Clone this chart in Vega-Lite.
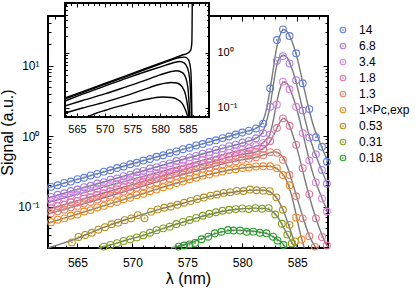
{
"$schema": "https://vega.github.io/schema/vega-lite/v6.json",
"width": 280, "height": 232,
"autosize": {"type": "none"},
"padding": {"left": 48, "top": 16, "right": 87, "bottom": 42},
"background": "white",
"config": {
  "view": {"stroke": "black", "strokeWidth": 2},
  "font": "Liberation Sans",
  "axis": {"domain": false, "grid": false, "tickColor": "black", "tickWidth": 1, "labelColor": "black", "labelFont": "Liberation Sans", "titleFont": "Liberation Sans", "labelFontSize": 12, "titleFontSize": 16, "titleFontWeight": "normal", "titleColor": "black", "labelFlush": false, "labelOverlap": false},
  "legend": {"labelFont": "Liberation Sans", "labelFontSize": 12, "labelColor": "black"}
},
"datasets": {
"pts": [
{"s":"14","x":562.6,"y":0.19},{"s":"14","x":563.2,"y":0.2},{"s":"14","x":563.8,"y":0.216},{"s":"14","x":564.4,"y":0.226},{"s":"14","x":565.0,"y":0.244},{"s":"14","x":565.6,"y":0.256},{"s":"14","x":566.2,"y":0.276},{"s":"14","x":566.8,"y":0.29},{"s":"14","x":567.4,"y":0.312},{"s":"14","x":568.0,"y":0.327},{"s":"14","x":568.6,"y":0.352},{"s":"14","x":569.2,"y":0.37},{"s":"14","x":569.8,"y":0.398},{"s":"14","x":570.4,"y":0.418},{"s":"14","x":571.0,"y":0.45},{"s":"14","x":571.6,"y":0.472},{"s":"14","x":572.2,"y":0.508},{"s":"14","x":572.8,"y":0.534},{"s":"14","x":573.4,"y":0.575},{"s":"14","x":574.0,"y":0.604},{"s":"14","x":574.6,"y":0.65},{"s":"14","x":575.2,"y":0.682},{"s":"14","x":575.8,"y":0.735},{"s":"14","x":576.4,"y":0.77},{"s":"14","x":577.0,"y":0.83},{"s":"14","x":577.6,"y":0.87},{"s":"14","x":578.2,"y":0.935},{"s":"14","x":578.8,"y":0.985},{"s":"14","x":579.4,"y":1.05},{"s":"14","x":580.0,"y":1.12},{"s":"14","x":580.6,"y":1.19},{"s":"14","x":581.25,"y":1.28},{"s":"14","x":581.9,"y":1.5},{"s":"14","x":582.54,"y":4.75},{"s":"14","x":583.15,"y":23},{"s":"14","x":583.7,"y":32.6},{"s":"14","x":584.3,"y":26.2},{"s":"14","x":584.9,"y":14.9},{"s":"14","x":585.5,"y":5.6},{"s":"14","x":586.1,"y":2.41},{"s":"14","x":586.7,"y":0.96},{"s":"14","x":587.25,"y":0.705},{"s":"14","x":587.7,"y":0.432},
{"s":"6.8","x":562.6,"y":0.137},{"s":"6.8","x":563.2,"y":0.147},{"s":"6.8","x":563.8,"y":0.154},{"s":"6.8","x":564.4,"y":0.166},{"s":"6.8","x":565.0,"y":0.174},{"s":"6.8","x":565.6,"y":0.188},{"s":"6.8","x":566.2,"y":0.197},{"s":"6.8","x":566.8,"y":0.212},{"s":"6.8","x":567.4,"y":0.222},{"s":"6.8","x":568.0,"y":0.24},{"s":"6.8","x":568.6,"y":0.251},{"s":"6.8","x":569.2,"y":0.27},{"s":"6.8","x":569.8,"y":0.283},{"s":"6.8","x":570.4,"y":0.306},{"s":"6.8","x":571.0,"y":0.32},{"s":"6.8","x":571.6,"y":0.346},{"s":"6.8","x":572.2,"y":0.362},{"s":"6.8","x":572.8,"y":0.39},{"s":"6.8","x":573.4,"y":0.41},{"s":"6.8","x":574.0,"y":0.442},{"s":"6.8","x":574.6,"y":0.462},{"s":"6.8","x":575.2,"y":0.498},{"s":"6.8","x":575.8,"y":0.522},{"s":"6.8","x":576.4,"y":0.562},{"s":"6.8","x":577.0,"y":0.59},{"s":"6.8","x":577.6,"y":0.636},{"s":"6.8","x":578.2,"y":0.668},{"s":"6.8","x":578.8,"y":0.718},{"s":"6.8","x":579.4,"y":0.755},{"s":"6.8","x":580.0,"y":0.81},{"s":"6.8","x":580.6,"y":0.855},{"s":"6.8","x":581.25,"y":0.93},{"s":"6.8","x":581.9,"y":1.1},{"s":"6.8","x":582.54,"y":2.6},{"s":"6.8","x":583.15,"y":11.7},{"s":"6.8","x":583.7,"y":13.6},{"s":"6.8","x":584.3,"y":10.7},{"s":"6.8","x":584.9,"y":6.2},{"s":"6.8","x":585.5,"y":2.3},{"s":"6.8","x":586.1,"y":0.95},{"s":"6.8","x":586.7,"y":0.55},{"s":"6.8","x":587.25,"y":0.33},{"s":"6.8","x":587.7,"y":0.21},
{"s":"3.4","x":562.6,"y":0.118},{"s":"3.4","x":563.2,"y":0.126},{"s":"3.4","x":563.8,"y":0.132},{"s":"3.4","x":564.4,"y":0.142},{"s":"3.4","x":565.0,"y":0.148},{"s":"3.4","x":565.6,"y":0.159},{"s":"3.4","x":566.2,"y":0.167},{"s":"3.4","x":566.8,"y":0.179},{"s":"3.4","x":567.4,"y":0.188},{"s":"3.4","x":568.0,"y":0.201},{"s":"3.4","x":568.6,"y":0.211},{"s":"3.4","x":569.2,"y":0.226},{"s":"3.4","x":569.8,"y":0.238},{"s":"3.4","x":570.4,"y":0.255},{"s":"3.4","x":571.0,"y":0.267},{"s":"3.4","x":571.6,"y":0.286},{"s":"3.4","x":572.2,"y":0.3},{"s":"3.4","x":572.8,"y":0.322},{"s":"3.4","x":573.4,"y":0.337},{"s":"3.4","x":574.0,"y":0.362},{"s":"3.4","x":574.6,"y":0.379},{"s":"3.4","x":575.2,"y":0.406},{"s":"3.4","x":575.8,"y":0.427},{"s":"3.4","x":576.4,"y":0.457},{"s":"3.4","x":577.0,"y":0.48},{"s":"3.4","x":577.6,"y":0.513},{"s":"3.4","x":578.2,"y":0.54},{"s":"3.4","x":578.8,"y":0.575},{"s":"3.4","x":579.4,"y":0.6},{"s":"3.4","x":580.0,"y":0.64},{"s":"3.4","x":580.6,"y":0.67},{"s":"3.4","x":581.25,"y":0.72},{"s":"3.4","x":581.9,"y":0.8},{"s":"3.4","x":582.54,"y":1.05},{"s":"3.4","x":583.15,"y":2.8},{"s":"3.4","x":583.7,"y":5.9},{"s":"3.4","x":584.3,"y":4.6},{"s":"3.4","x":584.9,"y":2.6},{"s":"3.4","x":585.5,"y":1.1},{"s":"3.4","x":586.1,"y":0.45},{"s":"3.4","x":586.7,"y":0.22},{"s":"3.4","x":587.25,"y":0.13},{"s":"3.4","x":587.7,"y":0.085},
{"s":"1.8","x":562.6,"y":0.094},{"s":"1.8","x":563.2,"y":0.101},{"s":"1.8","x":563.8,"y":0.106},{"s":"1.8","x":564.4,"y":0.115},{"s":"1.8","x":565.0,"y":0.12},{"s":"1.8","x":565.6,"y":0.13},{"s":"1.8","x":566.2,"y":0.136},{"s":"1.8","x":566.8,"y":0.147},{"s":"1.8","x":567.4,"y":0.155},{"s":"1.8","x":568.0,"y":0.167},{"s":"1.8","x":568.6,"y":0.176},{"s":"1.8","x":569.2,"y":0.19},{"s":"1.8","x":569.8,"y":0.199},{"s":"1.8","x":570.4,"y":0.215},{"s":"1.8","x":571.0,"y":0.226},{"s":"1.8","x":571.6,"y":0.244},{"s":"1.8","x":572.2,"y":0.257},{"s":"1.8","x":572.8,"y":0.277},{"s":"1.8","x":573.4,"y":0.29},{"s":"1.8","x":574.0,"y":0.313},{"s":"1.8","x":574.6,"y":0.33},{"s":"1.8","x":575.2,"y":0.355},{"s":"1.8","x":575.8,"y":0.372},{"s":"1.8","x":576.4,"y":0.4},{"s":"1.8","x":577.0,"y":0.42},{"s":"1.8","x":577.6,"y":0.452},{"s":"1.8","x":578.2,"y":0.47},{"s":"1.8","x":578.8,"y":0.502},{"s":"1.8","x":579.4,"y":0.52},{"s":"1.8","x":580.0,"y":0.552},{"s":"1.8","x":580.6,"y":0.565},{"s":"1.8","x":581.25,"y":0.6},{"s":"1.8","x":581.9,"y":0.66},{"s":"1.8","x":582.54,"y":0.85},{"s":"1.8","x":583.15,"y":1.3},{"s":"1.8","x":583.7,"y":1.78},{"s":"1.8","x":584.3,"y":1.4},{"s":"1.8","x":584.9,"y":0.75},{"s":"1.8","x":585.5,"y":0.35},{"s":"1.8","x":586.1,"y":0.15},{"s":"1.8","x":586.7,"y":0.068},{"s":"1.8","x":587.25,"y":0.037},{"s":"1.8","x":587.7,"y":0.028},
{"s":"1.3","x":562.6,"y":0.08},{"s":"1.3","x":563.2,"y":0.086},{"s":"1.3","x":563.8,"y":0.09},{"s":"1.3","x":564.4,"y":0.098},{"s":"1.3","x":565.0,"y":0.102},{"s":"1.3","x":565.6,"y":0.111},{"s":"1.3","x":566.2,"y":0.116},{"s":"1.3","x":566.8,"y":0.126},{"s":"1.3","x":567.4,"y":0.132},{"s":"1.3","x":568.0,"y":0.143},{"s":"1.3","x":568.6,"y":0.15},{"s":"1.3","x":569.2,"y":0.163},{"s":"1.3","x":569.8,"y":0.171},{"s":"1.3","x":570.4,"y":0.185},{"s":"1.3","x":571.0,"y":0.194},{"s":"1.3","x":571.6,"y":0.21},{"s":"1.3","x":572.2,"y":0.22},{"s":"1.3","x":572.8,"y":0.238},{"s":"1.3","x":573.4,"y":0.25},{"s":"1.3","x":574.0,"y":0.27},{"s":"1.3","x":574.6,"y":0.284},{"s":"1.3","x":575.2,"y":0.305},{"s":"1.3","x":575.8,"y":0.318},{"s":"1.3","x":576.4,"y":0.342},{"s":"1.3","x":577.0,"y":0.357},{"s":"1.3","x":577.6,"y":0.382},{"s":"1.3","x":578.2,"y":0.397},{"s":"1.3","x":578.8,"y":0.422},{"s":"1.3","x":579.4,"y":0.437},{"s":"1.3","x":580.0,"y":0.462},{"s":"1.3","x":580.6,"y":0.476},{"s":"1.3","x":581.25,"y":0.5},{"s":"1.3","x":581.9,"y":0.535},{"s":"1.3","x":582.54,"y":0.59},{"s":"1.3","x":583.15,"y":0.58},{"s":"1.3","x":583.7,"y":0.46},{"s":"1.3","x":584.3,"y":0.28},{"s":"1.3","x":584.9,"y":0.14},{"s":"1.3","x":585.5,"y":0.068},{"s":"1.3","x":586.1,"y":0.038},{"s":"1.3","x":586.6,"y":0.027},
{"s":"1×Pc,exp","x":562.6,"y":0.06},{"s":"1×Pc,exp","x":563.2,"y":0.065},{"s":"1×Pc,exp","x":563.8,"y":0.068},{"s":"1×Pc,exp","x":564.4,"y":0.074},{"s":"1×Pc,exp","x":565.0,"y":0.077},{"s":"1×Pc,exp","x":565.6,"y":0.085},{"s":"1×Pc,exp","x":566.2,"y":0.089},{"s":"1×Pc,exp","x":566.8,"y":0.097},{"s":"1×Pc,exp","x":567.4,"y":0.102},{"s":"1×Pc,exp","x":568.0,"y":0.111},{"s":"1×Pc,exp","x":568.6,"y":0.116},{"s":"1×Pc,exp","x":569.2,"y":0.127},{"s":"1×Pc,exp","x":569.8,"y":0.133},{"s":"1×Pc,exp","x":570.4,"y":0.145},{"s":"1×Pc,exp","x":571.0,"y":0.152},{"s":"1×Pc,exp","x":571.6,"y":0.165},{"s":"1×Pc,exp","x":572.2,"y":0.174},{"s":"1×Pc,exp","x":572.8,"y":0.188},{"s":"1×Pc,exp","x":573.4,"y":0.198},{"s":"1×Pc,exp","x":574.0,"y":0.215},{"s":"1×Pc,exp","x":574.6,"y":0.226},{"s":"1×Pc,exp","x":575.2,"y":0.244},{"s":"1×Pc,exp","x":575.8,"y":0.256},{"s":"1×Pc,exp","x":576.4,"y":0.274},{"s":"1×Pc,exp","x":577.0,"y":0.285},{"s":"1×Pc,exp","x":577.6,"y":0.302},{"s":"1×Pc,exp","x":578.2,"y":0.313},{"s":"1×Pc,exp","x":578.8,"y":0.33},{"s":"1×Pc,exp","x":579.4,"y":0.338},{"s":"1×Pc,exp","x":580.0,"y":0.352},{"s":"1×Pc,exp","x":580.6,"y":0.358},{"s":"1×Pc,exp","x":581.25,"y":0.37},{"s":"1×Pc,exp","x":581.9,"y":0.372},{"s":"1×Pc,exp","x":582.54,"y":0.372},{"s":"1×Pc,exp","x":583.15,"y":0.35},{"s":"1×Pc,exp","x":583.7,"y":0.28},{"s":"1×Pc,exp","x":584.3,"y":0.2},{"s":"1×Pc,exp","x":584.9,"y":0.07},{"s":"1×Pc,exp","x":585.4,"y":0.034},
{"s":"0.53","x":564.5,"y":0.031},{"s":"0.53","x":565.1,"y":0.037},{"s":"0.53","x":565.7,"y":0.0395},{"s":"0.53","x":566.3,"y":0.0425},{"s":"0.53","x":566.9,"y":0.047},{"s":"0.53","x":567.5,"y":0.051},{"s":"0.53","x":568.1,"y":0.056},{"s":"0.53","x":568.7,"y":0.059},{"s":"0.53","x":569.3,"y":0.064},{"s":"0.53","x":569.9,"y":0.068},{"s":"0.53","x":570.5,"y":0.0755},{"s":"0.53","x":571.1,"y":0.068},{"s":"0.53","x":571.7,"y":0.0845},{"s":"0.53","x":572.3,"y":0.091},{"s":"0.53","x":572.9,"y":0.096},{"s":"0.53","x":573.5,"y":0.1},{"s":"0.53","x":574.1,"y":0.106},{"s":"0.53","x":574.7,"y":0.113},{"s":"0.53","x":575.3,"y":0.12},{"s":"0.53","x":575.9,"y":0.128},{"s":"0.53","x":576.5,"y":0.134},{"s":"0.53","x":577.1,"y":0.143},{"s":"0.53","x":577.7,"y":0.148},{"s":"0.53","x":578.3,"y":0.156},{"s":"0.53","x":578.9,"y":0.16},{"s":"0.53","x":579.5,"y":0.167},{"s":"0.53","x":580.1,"y":0.166},{"s":"0.53","x":580.7,"y":0.174},{"s":"0.53","x":581.3,"y":0.17},{"s":"0.53","x":581.9,"y":0.168},{"s":"0.53","x":582.5,"y":0.165},{"s":"0.53","x":583.1,"y":0.135},{"s":"0.53","x":583.7,"y":0.09},{"s":"0.53","x":584.3,"y":0.055},{"s":"0.53","x":584.8,"y":0.032},
{"s":"0.31","x":567.4,"y":0.027},{"s":"0.31","x":568.0,"y":0.0285},{"s":"0.31","x":568.6,"y":0.0302},{"s":"0.31","x":569.2,"y":0.0325},{"s":"0.31","x":569.8,"y":0.0342},{"s":"0.31","x":570.4,"y":0.0365},{"s":"0.31","x":571.0,"y":0.0392},{"s":"0.31","x":571.6,"y":0.0425},{"s":"0.31","x":572.2,"y":0.0462},{"s":"0.31","x":572.8,"y":0.049},{"s":"0.31","x":573.4,"y":0.0518},{"s":"0.31","x":574.0,"y":0.0565},{"s":"0.31","x":574.6,"y":0.0605},{"s":"0.31","x":575.2,"y":0.0645},{"s":"0.31","x":575.8,"y":0.069},{"s":"0.31","x":576.4,"y":0.074},{"s":"0.31","x":577.0,"y":0.079},{"s":"0.31","x":577.6,"y":0.083},{"s":"0.31","x":578.2,"y":0.087},{"s":"0.31","x":578.8,"y":0.09},{"s":"0.31","x":579.4,"y":0.092},{"s":"0.31","x":580.0,"y":0.094},{"s":"0.31","x":580.6,"y":0.092},{"s":"0.31","x":581.2,"y":0.095},{"s":"0.31","x":581.8,"y":0.093},{"s":"0.31","x":582.4,"y":0.095},{"s":"0.31","x":583.0,"y":0.077},{"s":"0.31","x":583.6,"y":0.057},{"s":"0.31","x":584.1,"y":0.04},{"s":"0.31","x":584.5,"y":0.03},
{"s":"0.18","x":574.2,"y":0.027},{"s":"0.18","x":574.7,"y":0.028},{"s":"0.18","x":575.2,"y":0.029},{"s":"0.18","x":575.7,"y":0.0305},{"s":"0.18","x":576.3,"y":0.0343},{"s":"0.18","x":576.9,"y":0.0373},{"s":"0.18","x":577.5,"y":0.0417},{"s":"0.18","x":578.1,"y":0.0439},{"s":"0.18","x":578.7,"y":0.0464},{"s":"0.18","x":579.2,"y":0.0457},{"s":"0.18","x":579.8,"y":0.0457},{"s":"0.18","x":580.4,"y":0.0439},{"s":"0.18","x":581.0,"y":0.044},{"s":"0.18","x":581.6,"y":0.0425},{"s":"0.18","x":582.2,"y":0.0417},{"s":"0.18","x":582.8,"y":0.0373},{"s":"0.18","x":583.2,"y":0.033},{"s":"0.18","x":583.75,"y":0.0284}
],
"fit": [
{"s":"14","x":562.32,"y":0.184},{"s":"14","x":565,"y":0.243},{"s":"14","x":568,"y":0.33},{"s":"14","x":571,"y":0.447},{"s":"14","x":574,"y":0.607},{"s":"14","x":577,"y":0.824},{"s":"14","x":579,"y":1.01},{"s":"14","x":580.5,"y":1.18},{"s":"14","x":581.3,"y":1.3},{"s":"14","x":581.8,"y":1.55},{"s":"14","x":582.2,"y":2.4},{"s":"14","x":582.5,"y":4.3},{"s":"14","x":582.8,"y":8.5},{"s":"14","x":583.1,"y":17},{"s":"14","x":583.4,"y":26},{"s":"14","x":583.75,"y":32.5},{"s":"14","x":584.1,"y":30},{"s":"14","x":584.5,"y":22.5},{"s":"14","x":584.9,"y":14.5},{"s":"14","x":585.3,"y":8},{"s":"14","x":585.7,"y":4.2},{"s":"14","x":586.1,"y":2.3},{"s":"14","x":586.5,"y":1.35},{"s":"14","x":587,"y":0.86},{"s":"14","x":587.4,"y":0.6},{"s":"14","x":587.8,"y":0.44},
{"s":"6.8","x":562.32,"y":0.132},{"s":"6.8","x":565,"y":0.175},{"s":"6.8","x":568,"y":0.238},{"s":"6.8","x":571,"y":0.322},{"s":"6.8","x":574,"y":0.438},{"s":"6.8","x":577,"y":0.594},{"s":"6.8","x":579,"y":0.72},{"s":"6.8","x":580.5,"y":0.84},{"s":"6.8","x":581.3,"y":0.94},{"s":"6.8","x":581.8,"y":1.1},{"s":"6.8","x":582.2,"y":1.6},{"s":"6.8","x":582.5,"y":2.5},{"s":"6.8","x":582.8,"y":5},{"s":"6.8","x":583.1,"y":9.5},{"s":"6.8","x":583.4,"y":12.8},{"s":"6.8","x":583.75,"y":14},{"s":"6.8","x":584.1,"y":12.8},{"s":"6.8","x":584.5,"y":9.2},{"s":"6.8","x":584.9,"y":5.8},{"s":"6.8","x":585.3,"y":3.2},{"s":"6.8","x":585.7,"y":1.75},{"s":"6.8","x":586.1,"y":1.0},{"s":"6.8","x":586.5,"y":0.64},{"s":"6.8","x":587,"y":0.4},{"s":"6.8","x":587.4,"y":0.28},{"s":"6.8","x":587.8,"y":0.2},
{"s":"3.4","x":562.32,"y":0.114},{"s":"3.4","x":565,"y":0.149},{"s":"3.4","x":568,"y":0.2},{"s":"3.4","x":571,"y":0.268},{"s":"3.4","x":574,"y":0.36},{"s":"3.4","x":577,"y":0.482},{"s":"3.4","x":579,"y":0.585},{"s":"3.4","x":580.5,"y":0.665},{"s":"3.4","x":581.3,"y":0.72},{"s":"3.4","x":581.8,"y":0.78},{"s":"3.4","x":582.2,"y":0.9},{"s":"3.4","x":582.5,"y":1.05},{"s":"3.4","x":582.8,"y":1.6},{"s":"3.4","x":583.1,"y":2.8},{"s":"3.4","x":583.4,"y":4.5},{"s":"3.4","x":583.75,"y":5.9},{"s":"3.4","x":584.1,"y":5.5},{"s":"3.4","x":584.5,"y":4.0},{"s":"3.4","x":584.9,"y":2.6},{"s":"3.4","x":585.3,"y":1.5},{"s":"3.4","x":585.7,"y":0.82},{"s":"3.4","x":586.1,"y":0.45},{"s":"3.4","x":586.5,"y":0.27},{"s":"3.4","x":587,"y":0.165},{"s":"3.4","x":587.4,"y":0.115},{"s":"3.4","x":587.8,"y":0.085},
{"s":"1.8","x":562.32,"y":0.091},{"s":"1.8","x":565,"y":0.121},{"s":"1.8","x":568,"y":0.166},{"s":"1.8","x":571,"y":0.227},{"s":"1.8","x":574,"y":0.311},{"s":"1.8","x":577,"y":0.423},{"s":"1.8","x":579,"y":0.51},{"s":"1.8","x":580.5,"y":0.565},{"s":"1.8","x":581.3,"y":0.6},{"s":"1.8","x":581.8,"y":0.65},{"s":"1.8","x":582.2,"y":0.72},{"s":"1.8","x":582.6,"y":0.87},{"s":"1.8","x":583,"y":1.15},{"s":"1.8","x":583.4,"y":1.55},{"s":"1.8","x":583.75,"y":1.78},{"s":"1.8","x":584.1,"y":1.62},{"s":"1.8","x":584.5,"y":1.15},{"s":"1.8","x":584.9,"y":0.73},{"s":"1.8","x":585.3,"y":0.43},{"s":"1.8","x":585.7,"y":0.24},{"s":"1.8","x":586.1,"y":0.14},{"s":"1.8","x":586.5,"y":0.085},{"s":"1.8","x":587,"y":0.05},{"s":"1.8","x":587.4,"y":0.035},{"s":"1.8","x":587.8,"y":0.0265},
{"s":"1.3","x":562.32,"y":0.078},{"s":"1.3","x":565,"y":0.103},{"s":"1.3","x":568,"y":0.142},{"s":"1.3","x":571,"y":0.195},{"s":"1.3","x":574,"y":0.268},{"s":"1.3","x":577,"y":0.358},{"s":"1.3","x":579,"y":0.43},{"s":"1.3","x":580.5,"y":0.475},{"s":"1.3","x":581.3,"y":0.5},{"s":"1.3","x":582,"y":0.54},{"s":"1.3","x":582.6,"y":0.585},{"s":"1.3","x":583,"y":0.595},{"s":"1.3","x":583.4,"y":0.56},{"s":"1.3","x":583.8,"y":0.47},{"s":"1.3","x":584.2,"y":0.33},{"s":"1.3","x":584.6,"y":0.21},{"s":"1.3","x":585,"y":0.13},{"s":"1.3","x":585.5,"y":0.072},{"s":"1.3","x":586,"y":0.042},{"s":"1.3","x":586.5,"y":0.029},{"s":"1.3","x":586.8,"y":0.0258},
{"s":"1×Pc,exp","x":562.32,"y":0.058},{"s":"1×Pc,exp","x":565,"y":0.078},{"s":"1×Pc,exp","x":568,"y":0.11},{"s":"1×Pc,exp","x":571,"y":0.153},{"s":"1×Pc,exp","x":574,"y":0.214},{"s":"1×Pc,exp","x":577,"y":0.286},{"s":"1×Pc,exp","x":579,"y":0.333},{"s":"1×Pc,exp","x":580.5,"y":0.357},{"s":"1×Pc,exp","x":581.5,"y":0.37},{"s":"1×Pc,exp","x":582.3,"y":0.373},{"s":"1×Pc,exp","x":583,"y":0.355},{"s":"1×Pc,exp","x":583.5,"y":0.31},{"s":"1×Pc,exp","x":584,"y":0.24},{"s":"1×Pc,exp","x":584.4,"y":0.16},{"s":"1×Pc,exp","x":584.8,"y":0.09},{"s":"1×Pc,exp","x":585.1,"y":0.055},{"s":"1×Pc,exp","x":585.4,"y":0.035},{"s":"1×Pc,exp","x":585.65,"y":0.0258},
{"s":"0.53","x":562.32,"y":0.0258},{"s":"0.53","x":563.5,"y":0.0295},{"s":"0.53","x":565,"y":0.0355},{"s":"0.53","x":566.5,"y":0.0445},{"s":"0.53","x":568,"y":0.055},{"s":"0.53","x":569.5,"y":0.066},{"s":"0.53","x":571,"y":0.078},{"s":"0.53","x":572.5,"y":0.092},{"s":"0.53","x":574,"y":0.106},{"s":"0.53","x":575.5,"y":0.121},{"s":"0.53","x":577,"y":0.138},{"s":"0.53","x":578.5,"y":0.154},{"s":"0.53","x":580,"y":0.166},{"s":"0.53","x":581,"y":0.171},{"s":"0.53","x":582,"y":0.17},{"s":"0.53","x":582.7,"y":0.155},{"s":"0.53","x":583.3,"y":0.12},{"s":"0.53","x":583.8,"y":0.082},{"s":"0.53","x":584.3,"y":0.05},{"s":"0.53","x":584.7,"y":0.033},{"s":"0.53","x":585,"y":0.0258},
{"s":"0.31","x":566.9,"y":0.0258},{"s":"0.31","x":568,"y":0.0285},{"s":"0.31","x":569.5,"y":0.0335},{"s":"0.31","x":571,"y":0.039},{"s":"0.31","x":572.5,"y":0.047},{"s":"0.31","x":574,"y":0.056},{"s":"0.31","x":575.5,"y":0.066},{"s":"0.31","x":577,"y":0.077},{"s":"0.31","x":578.5,"y":0.087},{"s":"0.31","x":580,"y":0.093},{"s":"0.31","x":581,"y":0.095},{"s":"0.31","x":582,"y":0.094},{"s":"0.31","x":582.7,"y":0.086},{"s":"0.31","x":583.3,"y":0.068},{"s":"0.31","x":583.8,"y":0.049},{"s":"0.31","x":584.3,"y":0.035},{"s":"0.31","x":584.8,"y":0.0258},
{"s":"0.18","x":573.5,"y":0.0258},{"s":"0.18","x":574.5,"y":0.0282},{"s":"0.18","x":576,"y":0.0335},{"s":"0.18","x":577.5,"y":0.041},{"s":"0.18","x":578.5,"y":0.0448},{"s":"0.18","x":579.5,"y":0.0462},{"s":"0.18","x":580.5,"y":0.0453},{"s":"0.18","x":581.5,"y":0.0435},{"s":"0.18","x":582.3,"y":0.041},{"s":"0.18","x":583,"y":0.036},{"s":"0.18","x":583.6,"y":0.0305},{"s":"0.18","x":584,"y":0.0258}
],
"inset": [
{"c":1,"x":562.84,"y":0.152},{"c":1,"x":566,"y":0.199},{"c":1,"x":570,"y":0.279},{"c":1,"x":574,"y":0.393},{"c":1,"x":578,"y":0.551},{"c":1,"x":582,"y":0.774},{"c":1,"x":584,"y":0.918},{"c":1,"x":585,"y":1.0},{"c":1,"x":585.5,"y":1.12},{"c":1,"x":585.7,"y":1.5},{"c":1,"x":585.75,"y":3},{"c":1,"x":585.78,"y":8.1},
{"c":2,"x":562.84,"y":0.146},{"c":2,"x":566,"y":0.191},{"c":2,"x":570,"y":0.268},{"c":2,"x":574,"y":0.377},{"c":2,"x":578,"y":0.529},{"c":2,"x":582,"y":0.74},{"c":2,"x":583.5,"y":0.83},{"c":2,"x":584.5,"y":0.84},{"c":2,"x":585.1,"y":0.75},{"c":2,"x":585.5,"y":0.5},{"c":2,"x":585.65,"y":0.2},{"c":2,"x":585.72,"y":0.0686},
{"c":3,"x":562.84,"y":0.134},{"c":3,"x":566,"y":0.178},{"c":3,"x":570,"y":0.25},{"c":3,"x":574,"y":0.35},{"c":3,"x":578,"y":0.48},{"c":3,"x":581,"y":0.6},{"c":3,"x":582.5,"y":0.67},{"c":3,"x":583.5,"y":0.7},{"c":3,"x":584.3,"y":0.66},{"c":3,"x":584.9,"y":0.54},{"c":3,"x":585.3,"y":0.35},{"c":3,"x":585.5,"y":0.18},{"c":3,"x":585.65,"y":0.0686},
{"c":4,"x":562.84,"y":0.109},{"c":4,"x":566,"y":0.137},{"c":4,"x":570,"y":0.18},{"c":4,"x":574,"y":0.245},{"c":4,"x":577,"y":0.31},{"c":4,"x":580,"y":0.4},{"c":4,"x":582,"y":0.46},{"c":4,"x":583,"y":0.475},{"c":4,"x":584,"y":0.44},{"c":4,"x":584.7,"y":0.33},{"c":4,"x":585.1,"y":0.18},{"c":4,"x":585.35,"y":0.0686},
{"c":5,"x":562.84,"y":0.081},{"c":5,"x":566,"y":0.1},{"c":5,"x":570,"y":0.128},{"c":5,"x":574,"y":0.17},{"c":5,"x":577,"y":0.215},{"c":5,"x":580,"y":0.27},{"c":5,"x":582,"y":0.29},{"c":5,"x":583,"y":0.285},{"c":5,"x":584,"y":0.24},{"c":5,"x":584.6,"y":0.17},{"c":5,"x":585,"y":0.1},{"c":5,"x":585.2,"y":0.0686},
{"c":6,"x":566.8,"y":0.0686},{"c":6,"x":568,"y":0.077},{"c":6,"x":570,"y":0.09},{"c":6,"x":573,"y":0.11},{"c":6,"x":576,"y":0.132},{"c":6,"x":578.5,"y":0.15},{"c":6,"x":580.5,"y":0.158},{"c":6,"x":582,"y":0.155},{"c":6,"x":583,"y":0.145},{"c":6,"x":584,"y":0.12},{"c":6,"x":584.6,"y":0.09},{"c":6,"x":585,"y":0.0686}
]
},
"layer": [
 {
  "data": {"name": "fit"},
  "mark": {"type": "line", "color": "#7a7a7a", "strokeWidth": 1.4, "interpolate": "monotone"},
  "encoding": {
   "x": {"field": "x", "type": "quantitative", "scale": {"domain": [562.32, 587.8], "nice": false, "zero": false},
     "axis": {"orient": "bottom", "title": "λ (nm)", "values": [563,564,565,566,567,568,569,570,571,572,573,574,575,576,577,578,579,580,581,582,583,584,585,586,587], "tickSize": {"condition": {"test": "datum.value % 5 === 0", "value": -5}, "value": -3}, "labelExpr": "datum.value % 5 === 0 ? datum.label : ''", "labelPadding": 14, "titlePadding": 0}},
   "y": {"field": "y", "type": "quantitative", "scale": {"type": "log", "domain": [0.0258, 50.4], "nice": false},
     "axis": {"orient": "left", "title": "Signal (a.u.)", "values": [0.03,0.04,0.05,0.06,0.07,0.08,0.09,0.1,0.2,0.3,0.4,0.5,0.6,0.7,0.8,0.9,1,2,3,4,5,6,7,8,9,10,20,30,40], "tickSize": {"condition": {"test": "datum.value == 0.1 || datum.value == 1 || datum.value == 10", "value": -5}, "value": -3}, "labelExpr": "datum.value == 0.1 ? '10⁻¹' : datum.value == 1 ? '10⁰' : datum.value == 10 ? '10¹' : ''", "labelPadding": 14, "titlePadding": 2}},
   "detail": {"field": "s"}
  }
 },
 {
  "data": {"name": "pts"},
  "mark": {"type": "point", "filled": false, "strokeWidth": 1.1, "size": 46, "shape": "M-1,0A1,1 0 1,1 1,0A1,1 0 1,1 -1,0ZM-0.12,0A0.12,0.12 0 1,1 0.12,0A0.12,0.12 0 1,1 -0.12,0Z", "opacity": 1},
  "encoding": {
   "x": {"field": "x", "type": "quantitative", "scale": {"domain": [562.32, 587.8], "nice": false, "zero": false},
     "axis": {"orient": "top", "title": null, "labels": false, "values": [563,564,565,566,567,568,569,570,571,572,573,574,575,576,577,578,579,580,581,582,583,584,585,586,587], "tickSize": {"condition": {"test": "datum.value % 5 === 0", "value": -5}, "value": -3}}},
   "y": {"field": "y", "type": "quantitative", "scale": {"type": "log", "domain": [0.0258, 50.4], "nice": false},
     "axis": {"orient": "right", "title": null, "labels": false, "values": [0.03,0.04,0.05,0.06,0.07,0.08,0.09,0.1,0.2,0.3,0.4,0.5,0.6,0.7,0.8,0.9,1,2,3,4,5,6,7,8,9,10,20,30,40], "tickSize": {"condition": {"test": "datum.value == 0.1 || datum.value == 1 || datum.value == 10", "value": -5}, "value": -3}}},
   "color": {"field": "s", "type": "nominal",
     "scale": {"domain": ["14","6.8","3.4","1.8","1.3","1×Pc,exp","0.53","0.31","0.18"], "range": ["#5b7fe0","#a27be0","#e27ee2","#e8709a","#ef7f6c","#f08a1c","#b3901c","#7fa01c","#24a024"]},
     "legend": {"title": null, "orient": "none", "legendX": 289, "legendY": 8, "symbolSize": 30, "symbolStrokeWidth": 1.1, "rowPadding": 4, "labelOffset": 10, "labelFontSize": 12}}
  }
 },
 {
  "data": {"values": [{}]},
  "mark": {"type": "rect", "fill": "white", "stroke": "black", "strokeWidth": 2},
  "encoding": {
   "x": {"datum": 562.84, "type": "quantitative", "scale": {"domain": [562.84, 588.8], "range": [17, 161], "nice": false, "zero": false},
     "axis": {"orient": "top", "offset": 13, "title": null, "labels": false, "zindex": 1, "values": [563,564,565,566,567,568,569,570,571,572,573,574,575,576,577,578,579,580,581,582,583,584,585,586,587,588], "tickSize": {"condition": {"test": "datum.value % 5 === 0", "value": -4}, "value": -2.5}}},
   "x2": {"datum": 588.8},
   "y": {"datum": 0.0686, "type": "quantitative", "scale": {"type": "log", "domain": [0.0686, 8.1], "range": [101, -13], "nice": false},
     "axis": {"orient": "left", "offset": -17, "title": null, "labels": false, "zindex": 1, "values": [0.07,0.08,0.09,0.1,0.2,0.3,0.4,0.5,0.6,0.7,0.8,0.9,1,2,3,4,5,6,7,8], "tickSize": {"condition": {"test": "datum.value == 0.1 || datum.value == 1", "value": -4}, "value": -2.5}}},
   "y2": {"datum": 8.1}
  }
 },
 {
  "data": {"name": "inset"},
  "mark": {"type": "line", "color": "black", "strokeWidth": 1.4, "interpolate": "monotone"},
  "encoding": {
   "x": {"field": "x", "type": "quantitative", "scale": {"domain": [562.84, 588.8], "range": [17, 161], "nice": false, "zero": false},
     "axis": {"orient": "bottom", "offset": -131, "title": null, "zindex": 1, "labelFontSize": 11, "values": [563,564,565,566,567,568,569,570,571,572,573,574,575,576,577,578,579,580,581,582,583,584,585,586,587,588], "tickSize": {"condition": {"test": "datum.value % 5 === 0", "value": -4}, "value": -2.5}, "labelExpr": "datum.value % 5 === 0 ? datum.label : ''", "labelPadding": 10}},
   "y": {"field": "y", "type": "quantitative", "scale": {"type": "log", "domain": [0.0686, 8.1], "range": [101, -13], "nice": false},
     "axis": {"orient": "right", "offset": -119, "title": null, "zindex": 1, "labelFontSize": 11, "values": [0.07,0.08,0.09,0.1,0.2,0.3,0.4,0.5,0.6,0.7,0.8,0.9,1,2,3,4,5,6,7,8], "tickSize": {"condition": {"test": "datum.value == 0.1 || datum.value == 1", "value": -4}, "value": -2.5}, "labelExpr": "datum.value == 0.1 ? '10⁻¹' : datum.value == 1 ? '10⁰' : ''", "labelPadding": 12}},
   "detail": {"field": "c"}
  }
 }
],
"resolve": {"scale": {"x": "independent", "y": "independent"}, "axis": {"x": "independent", "y": "independent"}}
}
